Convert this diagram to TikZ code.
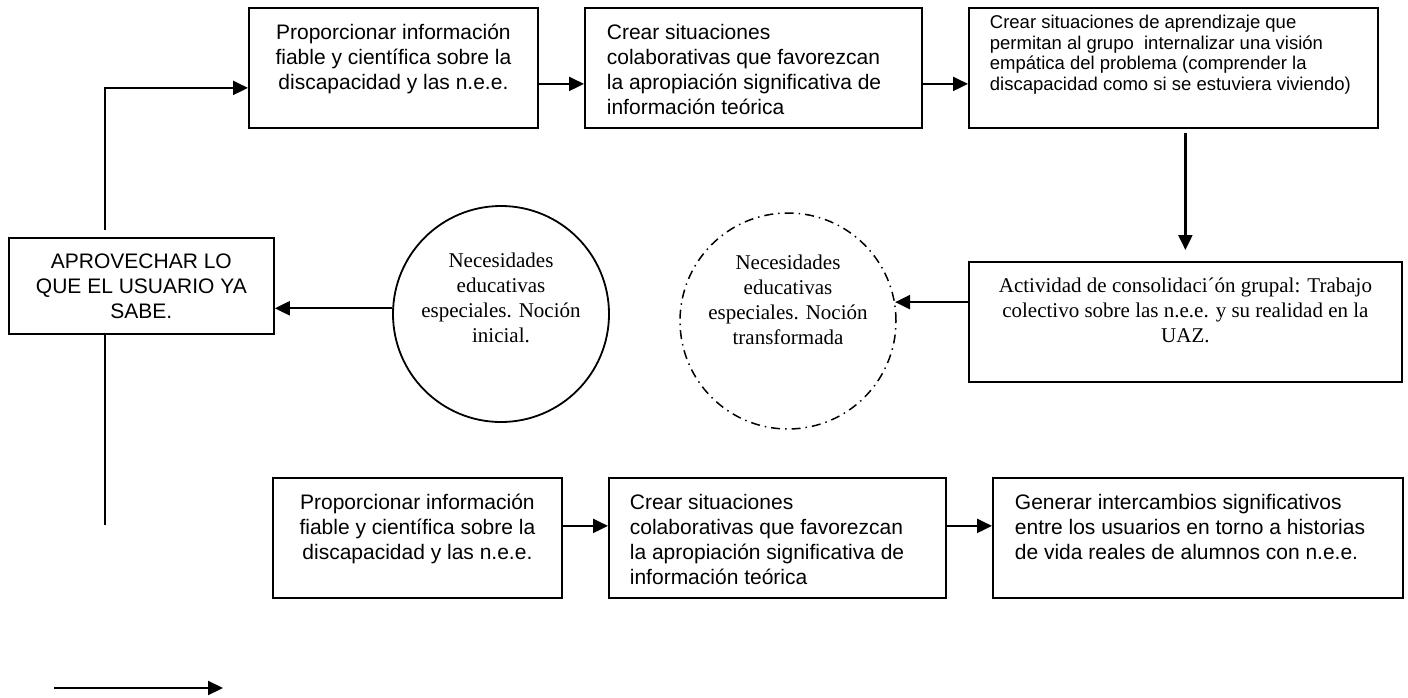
\documentclass[tikz,border=0pt]{standalone}
\usepackage{fontspec}
\setmainfont{Liberation Serif}
\newfontfamily\arialf{Liberation Sans}
\usetikzlibrary{arrows.meta}
\newcommand{\bxt}[5]{\begin{minipage}[c][#2][t]{#1}#4\rule{0pt}{#3}#5\end{minipage}}
\newcommand{\cxt}[2]{\begin{minipage}[t]{#1}\centering #2\end{minipage}}
\begin{document}
\begin{tikzpicture}[x=1pt,y=-1pt,
 box/.style={draw, line width=1.8pt, inner sep=0pt, anchor=north west, font=\arialf\fontsize{21pt}{25pt}\selectfont},
 sbox/.style={box, font=\arialf\fontsize{18.5pt}{20.7pt}\selectfont},
 tbox/.style={box, font=\rmfamily\fontsize{21pt}{25pt}\selectfont},
 circ/.style={draw, circle, line width=1.8pt, minimum size=216pt, inner sep=0pt},
 dcirc/.style={circ, line width=1.5pt, dash pattern=on 9pt off 5pt on 1.5pt off 5pt},
 ctext/.style={anchor=base, inner sep=0pt, font=\rmfamily\fontsize{21pt}{25pt}\selectfont},
 arr/.style={line width=2.2pt, -{Triangle[length=15pt,width=14pt]}},
 ln/.style={line width=2pt}]
\useasboundingbox (0,0) rectangle (1408,698);

\node[box] (t1) at (248,7) {\bxt{289pt}{120pt}{32pt}{\centering}{Proporcionar información\\ fiable y científica sobre la\\ discapacidad y las n.e.e.}};
\node[box] (t2) at (584,7) {\bxt{337pt}{120pt}{32pt}{\raggedright\leftskip=22pt}{Crear situaciones\\ colaborativas que favorezcan\\ la apropiación significativa de\\ información teórica}};
\node[sbox] (t3) at (968,7) {\bxt{409pt}{120pt}{20.6pt}{\raggedright\leftskip=21pt}{Crear situaciones de aprendizaje que\\ permitan al grupo~ internalizar una visión\\ empática del problema (comprender la\\ discapacidad como si se estuviera viviendo)}};

\node[box] (ap) at (8,237) {\bxt{265pt}{96pt}{30.5pt}{\centering}{APROVECHAR LO\\ QUE EL USUARIO YA\\ SABE.}};
\node[tbox] (act) at (968,261) {\bxt{433pt}{120pt}{31pt}{\centering}{Actividad de consolidaci´ón grupal: Trabajo\\ colectivo sobre las n.e.e. y su realidad en la\\ UAZ.}};

\node[circ] (c1) at (501,314) {};
\node[ctext] (c1t) at (501,267) {\cxt{210pt}{Necesidades\\ educativas\\ especiales. Noción\\ inicial.}};
\node[dcirc] (c2) at (788,321) {};
\node[ctext] (c2t) at (788,269) {\cxt{210pt}{Necesidades\\ educativas\\ especiales. Noción\\ transformada}};

\node[box] (b1) at (272,477) {\bxt{289pt}{120pt}{32pt}{\centering}{Proporcionar información\\ fiable y científica sobre la\\ discapacidad y las n.e.e.}};
\node[box] (b2) at (608,477) {\bxt{337pt}{120pt}{32pt}{\raggedright\leftskip=21pt}{Crear situaciones\\ colaborativas que favorezcan\\ la apropiación significativa de\\ información teórica}};
\node[box] (b3) at (992,477) {\bxt{410pt}{120pt}{32pt}{\raggedright\leftskip=22pt}{Generar intercambios significativos\\ entre los usuarios en torno a historias\\ de vida reales de alumnos con n.e.e.}};

\draw[arr] ([yshift=-16pt]t1.east) -- ([yshift=-16pt]t2.west);
\draw[arr] ([yshift=-16pt]t2.east) -- ([yshift=-16pt]t3.west);
\draw[arr, shorten <=4pt, shorten >=11pt] (t3.south -| act.north) -- (act.north);
\draw[arr] (act.west |- c2.10) -- (c2.10);
\draw[arr] (c1.177) -- (ap.east |- c1.177);

\coordinate (us) at (105,230);
\draw[arr] (us) |- ([yshift=-20pt]t1.west);
\coordinate (de) at (105,525);
\draw[ln] (ap.south -| de) -- (de);

\draw[arr] ([yshift=12pt]b1.east) -- ([yshift=12pt]b2.west);
\draw[arr] ([yshift=12pt]b2.east) -- ([yshift=12pt]b3.west);

\coordinate (fa) at (54,688);
\coordinate (fb) at (223,688);
\draw[arr] (fa) -- (fb);
\end{tikzpicture}
\end{document}
